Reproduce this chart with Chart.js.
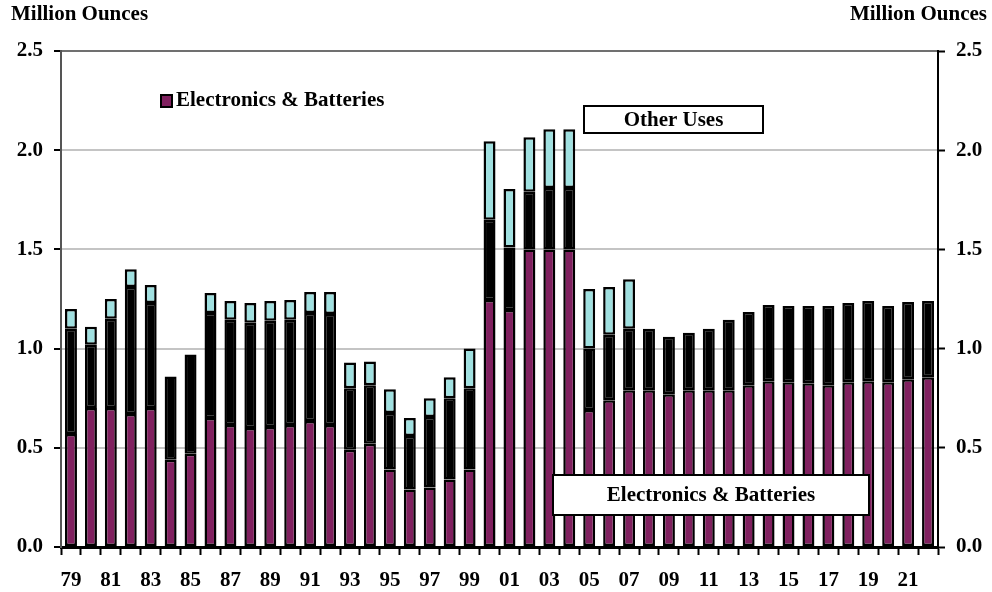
<!DOCTYPE html>
<html>
<head>
<meta charset="utf-8">
<script src="https://cdn.jsdelivr.net/npm/chart.js@4.4.1/dist/chart.umd.min.js"></script>
<style>
  body { margin: 0; background: #fff; }
  canvas { display: block; }
</style>
</head>
<body>
<canvas id="chart" width="992" height="592"></canvas>
<script>
// years 1979-2022, shown as two digit labels
const years = ['79','80','81','82','83','84','85','86','87','88','89','90','91','92','93','94','95','96','97','98','99',
  '00','01','02','03','04','05','06','07','08','09','10','11','12','13','14','15','16','17','18','19','20','21','22'];

// million ounces, bottom segment
const electronics = [0.57,0.70,0.70,0.67,0.70,0.44,0.47,0.65,0.615,0.60,0.605,0.615,0.635,0.615,0.49,0.52,0.39,0.29,0.30,0.34,0.39,
  1.245,1.195,1.50,1.50,1.50,0.69,0.74,0.79,0.79,0.77,0.79,0.79,0.79,0.815,0.835,0.83,0.825,0.815,0.83,0.835,0.83,0.845,0.855];

// middle (black) segment, not named in the legend
const middle = [0.53,0.32,0.45,0.64,0.53,0.42,0.50,0.53,0.53,0.53,0.535,0.53,0.545,0.56,0.31,0.295,0.285,0.27,0.355,0.41,0.41,
  0.405,0.315,0.29,0.31,0.31,0.31,0.33,0.31,0.31,0.29,0.29,0.31,0.355,0.37,0.385,0.385,0.39,0.40,0.40,0.405,0.385,0.39,0.385];

// top segment
const otherUses = [0.10,0.09,0.10,0.09,0.09,null,null,0.10,0.095,0.10,0.10,0.10,0.105,0.11,0.13,0.12,0.12,0.09,0.095,0.105,0.20,
  0.395,0.295,0.275,0.295,0.295,0.30,0.24,0.25,null,null,null,null,null,null,null,null,null,null,null,null,null,null,null];

const yTicks = [0, 0.5, 1.0, 1.5, 2.0, 2.5];

const PURPLE = '#80205F';
const CYAN = '#A0E0E0';
const FONT = 'Liberation Serif, Times New Roman, serif';

// draws the titles, legend and the two label boxes
const extras = {
  id: 'extras',
  afterDraw(chart) {
    const c = chart.ctx;
    c.save();
    c.fillStyle = '#000';
    c.textBaseline = 'middle';
    c.font = 'bold 21px ' + FONT;
    c.textAlign = 'left';
    c.fillText('Million Ounces', 11, 15);
    c.textAlign = 'right';
    c.fillText('Million Ounces', 987, 15);

    // legend entry
    c.fillStyle = PURPLE;
    c.fillRect(161, 95, 11, 12);
    c.strokeStyle = '#000';
    c.lineWidth = 2;
    c.strokeRect(161, 95, 11, 12);
    c.fillStyle = '#000';
    c.textAlign = 'left';
    c.fillText('Electronics & Batteries', 176, 101);

    // label boxes
    const box = (x, y, w, h, txt) => {
      c.fillStyle = '#fff';
      c.fillRect(x, y, w, h);
      c.lineWidth = 2;
      c.strokeStyle = '#000';
      c.strokeRect(x, y, w, h);
      c.fillStyle = '#000';
      c.textAlign = 'center';
      c.fillText(txt, x + w / 2, y + h / 2 + 1);
    };
    box(584, 106, 179, 27, 'Other Uses');
    box(553, 475, 316, 40, 'Electronics & Batteries');
    c.restore();
  }
};

const tickFont = { family: FONT, size: 21, weight: 'bold' };

new Chart(document.getElementById('chart'), {
  type: 'bar',
  data: {
    labels: years,
    datasets: [
      { label: 'Electronics & Batteries', data: electronics, backgroundColor: PURPLE },
      { label: 'Middle', data: middle, backgroundColor: '#000' },
      { label: 'Other Uses', data: otherUses, backgroundColor: CYAN }
    ]
  },
  options: {
    responsive: false,
    animation: false,
    layout: { padding: { top: 51, left: 0, right: 0, bottom: 0 } },
    datasets: {
      bar: {
        borderColor: '#000',
        borderWidth: 2.5,
        borderSkipped: false,
        categoryPercentage: 1,
        barPercentage: 0.6
      }
    },
    plugins: {
      legend: { display: false },
      tooltip: { enabled: false }
    },
    scales: {
      x: {
        stacked: true,
        offset: true,
        grid: { offset: true, drawOnChartArea: false, tickLength: 8, tickColor: '#000', tickWidth: 2 },
        border: { color: '#000', width: 3 },
        ticks: {
          autoSkip: false,
          maxRotation: 0,
          color: '#000',
          font: tickFont,
          padding: 13,
          callback: (v, i) => (i % 2 === 0 ? years[i] : '')
        },
        afterFit: s => { s.height = 45; }
      },
      y: {
        stacked: true,
        min: 0,
        max: 2.5,
        grid: {
          color: ctx => ctx.tick.value === 2.5 ? '#707070' : (ctx.tick.value === 0 ? 'rgba(0,0,0,0)' : '#C4C4C4'),
          lineWidth: 2,
          tickLength: 7,
          tickColor: '#000',
          tickWidth: 2
        },
        border: { color: '#555', width: 2 },
        afterBuildTicks: s => { s.ticks = yTicks.map(v => ({ value: v })); },
        ticks: { color: '#000', font: tickFont, padding: 11, callback: v => v.toFixed(1) },
        afterFit: s => { s.width = 61; }
      },
      y2: {
        position: 'right',
        min: 0,
        max: 2.5,
        grid: { drawOnChartArea: false, tickLength: 7, tickColor: '#000', tickWidth: 2 },
        border: { color: '#000', width: 2 },
        afterBuildTicks: s => { s.ticks = yTicks.map(v => ({ value: v })); },
        ticks: { color: '#000', font: tickFont, padding: 11, callback: v => v.toFixed(1) },
        afterFit: s => { s.width = 54; }
      }
    }
  },
  plugins: [extras]
});
</script>
</body>
</html>
